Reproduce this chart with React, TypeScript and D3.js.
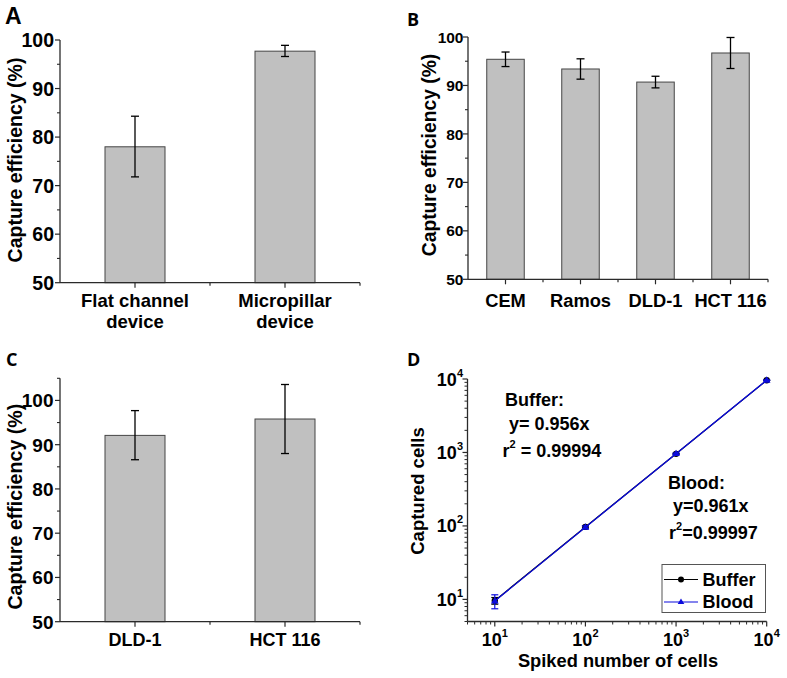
import React from "react";
import * as d3 from "d3";

const FONT = "'Liberation Sans', Arial, Helvetica, sans-serif";
const LETTER_FONT = "'Open Sans', 'Noto Sans', sans-serif";

// ---------- Panel A ----------
const aCategories = ["Flat channel device", "Micropillar device"];
const aLabelLines = [["Flat channel", "device"], ["Micropillar", "device"]];
const aValues = [78.0, 97.7];
const aErrLow = [71.8, 96.6];
const aErrHigh = [84.3, 98.9];
const aMajorTicks = [50, 60, 70, 80, 90, 100];
const aMinorTicks = [55, 65, 75, 85, 95];

// ---------- Panel B ----------
const bCategories = ["CEM", "Ramos", "DLD-1", "HCT 116"];
const bValues = [95.4, 93.4, 90.7, 96.7];
const bErrLow = [93.9, 91.3, 89.5, 93.5];
const bErrHigh = [96.9, 95.5, 91.9, 99.9];
const bMajorTicks = [50, 60, 70, 80, 90, 100];
const bMinorTicks = [55, 65, 75, 85, 95];

// ---------- Panel C ----------
const cCategories = ["DLD-1", "HCT 116"];
const cValues = [92.1, 95.8];
const cErrLow = [86.6, 88.0];
const cErrHigh = [97.7, 103.6];
const cMajorTicks = [50, 60, 70, 80, 90, 100];
const cMinorTicks = [55, 65, 75, 85, 95, 105];

// ---------- Panel D ----------
const dSpiked = [10, 100, 1000, 10000];
const dBuffer = [9.6, 97, 957, 9600];
const dBufferErr = [1.0, 3, 15, 60];
const dBlood = [9.5, 96, 962, 9620];
const dBloodErr = [2.05, 4, 20, 80];
const dMajorExponents = [1, 2, 3, 4];
const dSeriesNames = ["Buffer", "Blood"];

const AXIS = "#2a2a2a";
const BAR_FILL = "#c0c0c0";
const BAR_STROKE = "#454545";
const BLUE = "#0b0bdc";

type BarPanelProps = {
  x0: number; x1: number; yTop: number; yBottom: number;
  domain: [number, number];
  cats: string[]; labelLines: string[][];
  values: number[]; low: number[]; high: number[];
  major: number[]; minor: number[];
  barFrac: number; tickFont: number; catFont: number;
  catBaseline: number; catLineHeight: number;
  titleFont: number; titleX: number; titleY: number;
  tickLabelX: number;
};

function BarPanel(p: BarPanelProps) {
  const y = d3.scaleLinear().domain(p.domain).range([p.yBottom, p.yTop]);
  const x = d3.scaleBand<string>().domain(p.cats).range([p.x0, p.x1]).paddingInner(0).paddingOuter(0);
  const bw = x.bandwidth() * p.barFrac;
  const boundaries = p.cats.slice(1).map((c) => x(c) as number).concat([p.x1]);
  return (
    <g>
      {p.cats.map((c, i) => {
        const cx = (x(c) as number) + x.bandwidth() / 2;
        return (
          <g key={c}>
            <rect x={cx - bw / 2} y={y(p.values[i])} width={bw} height={y(p.domain[0]) - y(p.values[i])}
              fill={BAR_FILL} stroke={BAR_STROKE} strokeWidth={1} />
            <line x1={cx} x2={cx} y1={y(p.low[i])} y2={y(p.high[i])} stroke="#000" strokeWidth={1.3} />
            <line x1={cx - 4} x2={cx + 4} y1={y(p.low[i])} y2={y(p.low[i])} stroke="#000" strokeWidth={1.3} />
            <line x1={cx - 4} x2={cx + 4} y1={y(p.high[i])} y2={y(p.high[i])} stroke="#000" strokeWidth={1.3} />
            <line x1={cx} x2={cx} y1={p.yBottom} y2={p.yBottom + 5} stroke={AXIS} strokeWidth={1.2} />
            {p.labelLines[i].map((ln, j) => (
              <text key={j} x={cx} y={p.catBaseline + j * p.catLineHeight} textAnchor="middle"
                fontFamily={FONT} fontWeight="bold" fontSize={p.catFont} fill="#000">{ln}</text>
            ))}
          </g>
        );
      })}
      {boundaries.map((bx, i) => (
        <line key={"b" + i} x1={bx} x2={bx} y1={p.yBottom} y2={p.yBottom + 3} stroke={AXIS} strokeWidth={1.2} />
      ))}
      {p.major.map((t) => (
        <g key={"m" + t}>
          <line x1={p.x0 - 5} x2={p.x0} y1={y(t)} y2={y(t)} stroke={AXIS} strokeWidth={1.2} />
          <text x={p.tickLabelX} y={y(t) + p.tickFont * 0.36} textAnchor="end" fontFamily={FONT}
            fontWeight="bold" fontSize={p.tickFont} fill="#000">{t}</text>
        </g>
      ))}
      {p.minor.map((t) => (
        <line key={"n" + t} x1={p.x0 - 3} x2={p.x0} y1={y(t)} y2={y(t)} stroke={AXIS} strokeWidth={1.1} />
      ))}
      <line x1={p.x0} x2={p.x0} y1={p.yTop} y2={p.yBottom} stroke={AXIS} strokeWidth={1.3} />
      <line x1={p.x0} x2={p.x1} y1={p.yBottom} y2={p.yBottom} stroke={AXIS} strokeWidth={1.3} />
      <text transform={`translate(${p.titleX},${p.titleY}) rotate(-90)`} textAnchor="middle"
        fontFamily={FONT} fontWeight="bold" fontSize={p.titleFont} fill="#000">Capture efficiency (%)</text>
    </g>
  );
}

function LogPanel() {
  const x0 = 467.5, x1 = 766.7, yTop = 379, yBottom = 621.5;
  const x = d3.scaleLog().domain([5, 10000]).range([x0, x1]);
  const y = d3.scaleLog().domain([5, 10000]).range([yBottom, yTop]);
  const minor: number[] = [];
  [0, 1, 2, 3].forEach((e) => {
    for (let m = 2; m <= 9; m++) {
      const v = m * Math.pow(10, e);
      if (v >= 5 && v < 10000) minor.push(v);
    }
  });
  const line = d3.line<number>().x((_, i) => x(dSpiked[i])).y((d) => y(d));
  const tri = (cx: number, cy: number, s: number) =>
    `M${cx},${cy - s}L${cx + s * 0.95},${cy + s * 0.6}L${cx - s * 0.95},${cy + s * 0.6}Z`;
  const errBars = (vals: number[], errs: number[], color: string) =>
    vals.map((v, i) => {
      const cx = x(dSpiked[i]);
      const lo = y(v - errs[i]), hi = y(v + errs[i]);
      return (
        <g key={color + i}>
          <line x1={cx} x2={cx} y1={lo} y2={hi} stroke={color} strokeWidth={1.2} />
          <line x1={cx - 3.5} x2={cx + 3.5} y1={lo} y2={lo} stroke={color} strokeWidth={1.2} />
          <line x1={cx - 3.5} x2={cx + 3.5} y1={hi} y2={hi} stroke={color} strokeWidth={1.2} />
        </g>
      );
    });
  return (
    <g>
      {dMajorExponents.map((e) => {
        const v = Math.pow(10, e);
        return (
          <g key={"maj" + e}>
            <line x1={x(v)} x2={x(v)} y1={yBottom} y2={yBottom + 5} stroke={AXIS} strokeWidth={1.2} />
            <line x1={x0 - 5} x2={x0} y1={y(v)} y2={y(v)} stroke={AXIS} strokeWidth={1.2} />
            <text x={x(v)} y={646} textAnchor="middle" fontFamily={FONT} fontWeight="bold" fontSize={18} fill="#000">
              10<tspan dy={-9} fontSize={11}>{e}</tspan>
            </text>
            <text x={463} y={y(v) + 6.5} textAnchor="end" fontFamily={FONT} fontWeight="bold" fontSize={18} fill="#000">
              10<tspan dy={-9} fontSize={11}>{e}</tspan>
            </text>
          </g>
        );
      })}
      {minor.map((v) => (
        <g key={"min" + v}>
          <line x1={x(v)} x2={x(v)} y1={yBottom} y2={yBottom + 3} stroke={AXIS} strokeWidth={1} />
          <line x1={x0 - 3} x2={x0} y1={y(v)} y2={y(v)} stroke={AXIS} strokeWidth={1} />
        </g>
      ))}
      <line x1={x0} x2={x0} y1={yTop} y2={yBottom} stroke={AXIS} strokeWidth={1.3} />
      <line x1={x0} x2={x1} y1={yBottom} y2={yBottom} stroke={AXIS} strokeWidth={1.3} />

      <path d={line(dBuffer) as string} fill="none" stroke="#000" strokeWidth={1.3} />
      {errBars(dBuffer, dBufferErr, "#000")}
      {dBuffer.map((v, i) => (
        <circle key={"bc" + i} cx={x(dSpiked[i])} cy={y(v)} r={3.2} fill="#000" />
      ))}
      <path d={line(dBlood) as string} fill="none" stroke={BLUE} strokeWidth={1.3} />
      {errBars(dBlood, dBloodErr, BLUE)}
      {dBlood.map((v, i) => (
        <path key={"bt" + i} d={tri(x(dSpiked[i]), y(v), 4)} fill={BLUE} />
      ))}

      <g fontFamily={FONT} fontWeight="bold" fontSize={18} fill="#000">
        <text x={505} y={406}>Buffer:</text>
        <text x={509} y={430}>y= 0.956x</text>
        <text x={502.5} y={456.5}>r<tspan dy={-9} fontSize={11}>2</tspan><tspan dy={9}> = 0.99994</tspan></text>
        <text x={668} y={489}>Blood:</text>
        <text x={673} y={511.5}>y=0.961x</text>
        <text x={669} y={539}>r<tspan dy={-9} fontSize={11}>2</tspan><tspan dy={9}>=0.99997</tspan></text>
      </g>

      <rect x={662} y={564.5} width={103.5} height={48} fill="#fff" stroke="#555" strokeWidth={1} />
      <line x1={664} x2={698} y1={579.5} y2={579.5} stroke="#000" strokeWidth={1.2} />
      <circle cx={681} cy={579.5} r={3} fill="#000" />
      <text x={702.5} y={585.5} fontFamily={FONT} fontWeight="bold" fontSize={18} fill="#000">{dSeriesNames[0]}</text>
      <line x1={664} x2={698} y1={602} y2={602} stroke={BLUE} strokeWidth={1.2} />
      <path d={tri(681, 602, 3.5)} fill={BLUE} />
      <text x={702.5} y={608} fontFamily={FONT} fontWeight="bold" fontSize={18} fill="#000">{dSeriesNames[1]}</text>

      <text transform="translate(423.5,491) rotate(-90)" textAnchor="middle" fontFamily={FONT} fontWeight="bold"
        fontSize={18.5} fill="#000">Captured cells</text>
      <text x={618} y={667} textAnchor="middle" fontFamily={FONT} fontWeight="bold" fontSize={18.3} fill="#000">
        Spiked number of cells</text>
    </g>
  );
}

export default function App() {
  return (
    <svg width={787} height={678} viewBox="0 0 787 678"
      style={{ position: "absolute", left: 0, top: 0, display: "block", background: "#fff" }}>
      <rect x={0} y={0} width={787} height={678} fill="#fff" />
      <text x={5} y={23.5} fontFamily={FONT} fontWeight="bold" fontSize={23} fill="#000">A</text>
      <text x={407} y={25.5} fontFamily={LETTER_FONT} fontWeight="bold" fontSize={18} fill="#000">B</text>
      <text x={6} y={365.5} fontFamily={LETTER_FONT} fontWeight="bold" fontSize={18} fill="#000">C</text>
      <text x={407} y={365.5} fontFamily={LETTER_FONT} fontWeight="bold" fontSize={18} fill="#000">D</text>

      <BarPanel x0={60} x1={360} yTop={40} yBottom={282.7} domain={[50, 100]}
        cats={aCategories} labelLines={aLabelLines} values={aValues} low={aErrLow} high={aErrHigh}
        major={aMajorTicks} minor={aMinorTicks} barFrac={0.4} tickFont={19.5} catFont={18.5}
        catBaseline={306.7} catLineHeight={21.6} titleFont={19.5} titleX={21.7} titleY={160} tickLabelX={54} />

      <BarPanel x0={468} x1={768} yTop={37} yBottom={279.3} domain={[50, 100]}
        cats={bCategories} labelLines={bCategories.map((c) => [c])} values={bValues} low={bErrLow} high={bErrHigh}
        major={bMajorTicks} minor={bMinorTicks} barFrac={0.5} tickFont={15.5} catFont={18.3}
        catBaseline={306.7} catLineHeight={21} titleFont={19.3} titleX={436} titleY={155} tickLabelX={463.5} />

      <BarPanel x0={60} x1={360} yTop={378.3} yBottom={621.7} domain={[50, 105]}
        cats={cCategories} labelLines={cCategories.map((c) => [c])} values={cValues} low={cErrLow} high={cErrHigh}
        major={cMajorTicks} minor={cMinorTicks} barFrac={0.4} tickFont={19} catFont={18}
        catBaseline={645.5} catLineHeight={21} titleFont={19.6} titleX={21.7} titleY={506.7} tickLabelX={53.5} />

      <LogPanel />
    </svg>
  );
}
